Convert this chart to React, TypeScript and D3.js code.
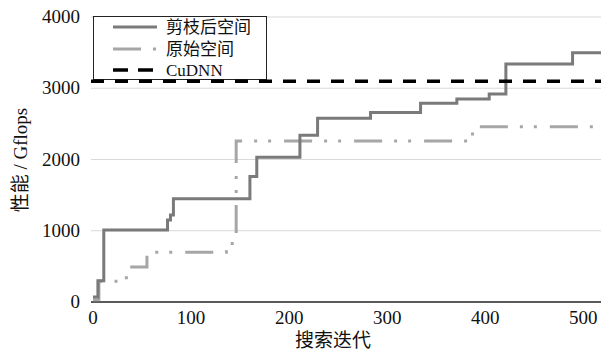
import { useEffect, useRef } from 'react';
import * as d3 from 'd3';

// 剪枝后空间 (pruned space): [iteration, Gflops]
const prunedIter = [0, 5, 11, 76, 79, 82, 160, 167, 211, 229, 283, 334, 371, 404, 421, 489, 518];
const prunedPerf = [70, 300, 1010, 1150, 1220, 1450, 1760, 2030, 2340, 2580, 2660, 2790, 2850, 2920, 3340, 3500, 3500];

// 原始空间 (original space)
const origIter = [0, 6, 34, 55, 136, 146, 387, 518];
const origPerf = [30, 290, 490, 700, 820, 2260, 2460, 2460];

const cudnnPerf = 3100;

const yTicks = [0, 1000, 2000, 3000, 4000];
const xTicks = [0, 100, 200, 300, 400, 500];
const legendLabels = ['剪枝后空间', '原始空间', 'CuDNN'];

const WIDTH = 601;
const HEIGHT = 352;
const FONT = '"Liberation Serif", "Noto Sans CJK SC", serif';

export default function App() {
  const svgRef = useRef(null);

  useEffect(() => {
    if (!svgRef.current) return;
    const svg = d3.select(svgRef.current);
    svg.selectAll('*').remove();

    const x = d3.scaleLinear().domain([0, 518]).range([93, 601]);
    const y = d3.scaleLinear().domain([0, 4000]).range([302, 17]);

    // Grid lines
    svg.append('g')
      .selectAll('line')
      .data(yTicks.filter(d => d > 0))
      .join('line')
      .attr('x1', 91)
      .attr('x2', WIDTH)
      .attr('y1', d => y(d))
      .attr('y2', d => y(d))
      .attr('stroke', '#d9d9d9')
      .attr('stroke-width', 1);

    // X axis line
    svg.append('line')
      .attr('x1', 91)
      .attr('x2', WIDTH)
      .attr('y1', y(0))
      .attr('y2', y(0))
      .attr('stroke', '#222')
      .attr('stroke-width', 1.5);

    // Tick labels
    svg.append('g')
      .selectAll('text')
      .data(yTicks)
      .join('text')
      .attr('x', 80)
      .attr('y', d => y(d) + 6)
      .attr('text-anchor', 'end')
      .attr('font-family', FONT)
      .attr('font-size', '19px')
      .attr('fill', '#111')
      .text(d => d);

    svg.append('g')
      .selectAll('text')
      .data(xTicks)
      .join('text')
      .attr('x', d => x(d))
      .attr('y', 324)
      .attr('text-anchor', 'middle')
      .attr('font-family', FONT)
      .attr('font-size', '19px')
      .attr('fill', '#111')
      .text(d => d);

    // Axis titles
    svg.append('text')
      .attr('x', 333)
      .attr('y', 347)
      .attr('text-anchor', 'middle')
      .attr('font-family', FONT)
      .attr('font-size', '19px')
      .attr('fill', '#111')
      .text('搜索迭代');

    svg.append('text')
      .attr('transform', 'translate(27,160) rotate(-90)')
      .attr('text-anchor', 'middle')
      .attr('font-family', FONT)
      .attr('font-size', '19px')
      .attr('fill', '#111')
      .text('性能 / Gflops');

    const line = d3.line()
      .x(d => x(d[0]))
      .y(d => y(d[1]))
      .curve(d3.curveStepAfter);

    const origData = origIter.map((d, i) => [d, origPerf[i]]);
    const prunedData = prunedIter.map((d, i) => [d, prunedPerf[i]]);

    svg.append('path')
      .attr('d', line(origData))
      .attr('fill', 'none')
      .attr('stroke', '#a6a6a6')
      .attr('stroke-width', 3)
      .attr('stroke-dasharray', '28,12,3,11,3,13');

    svg.append('path')
      .attr('d', line(prunedData))
      .attr('fill', 'none')
      .attr('stroke', '#7a7a7a')
      .attr('stroke-width', 3);

    // Legend box
    const lg = svg.append('g');
    lg.append('rect')
      .attr('x', 93.5)
      .attr('y', 16.5)
      .attr('width', 173)
      .attr('height', 63)
      .attr('fill', '#fff')
      .attr('stroke', '#222')
      .attr('stroke-width', 1);

    // CuDNN baseline
    svg.append('line')
      .attr('x1', x(0) - 2)
      .attr('x2', WIDTH)
      .attr('y1', y(cudnnPerf))
      .attr('y2', y(cudnnPerf))
      .attr('stroke', '#000')
      .attr('stroke-width', 3.5)
      .attr('stroke-dasharray', '13,11');

    const legendStyles = [
      { stroke: '#7a7a7a', dash: null, w: 3 },
      { stroke: '#a6a6a6', dash: '28,12,3,11', w: 3 },
      { stroke: '#000', dash: '15,10', w: 3.5 },
    ];
    const rowY = [27, 49, 70];
    legendLabels.forEach((label, i) => {
      lg.append('line')
        .attr('x1', 113)
        .attr('x2', 157)
        .attr('y1', rowY[i])
        .attr('y2', rowY[i])
        .attr('stroke', legendStyles[i].stroke)
        .attr('stroke-width', legendStyles[i].w)
        .attr('stroke-dasharray', legendStyles[i].dash);
      lg.append('text')
        .attr('x', 166)
        .attr('y', rowY[i] + 6)
        .attr('font-family', FONT)
        .attr('font-size', '17px')
        .attr('fill', '#111')
        .text(label);
    });
  }, []);

  return (
    <svg
      ref={svgRef}
      width={WIDTH}
      height={HEIGHT}
      style={{ position: 'absolute', left: 0, top: 0, background: '#fff' }}
    />
  );
}
